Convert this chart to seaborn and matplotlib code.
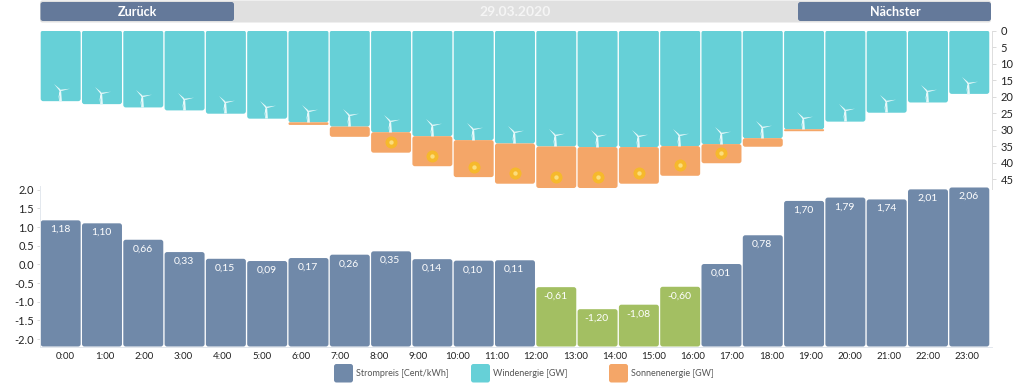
import numpy as np
import pandas as pd
import matplotlib
matplotlib.use('Agg')
import matplotlib.pyplot as plt
import seaborn as sns
from matplotlib.patches import FancyBboxPatch
from matplotlib.path import Path

bars = [str(i) for i in range(23)]
wind = [21.4, 22.3, 23.3, 24.2, 25.2, 26.7, 27.8, 29.1, 30.8, 32.0, 33.2, 34.2,
        35.1, 35.3, 35.3, 35.0, 34.4, 32.6, 29.9, 27.6, 24.9, 21.8, 19.2]
solar = [0, 0, 0, 0, 0, 0, 0.8, 3.1, 6.2, 9.1, 11.2, 12.2,
         12.6, 12.4, 11.1, 9.0, 5.8, 2.6, 0.6, 0, 0, 0, 0]
price = [1.18, 1.10, 0.66, 0.33, 0.15, 0.09, 0.17, 0.26, 0.35, 0.14, 0.10, 0.11,
         -0.61, -1.20, -1.08, -0.60, 0.01, 0.78, 1.70, 1.79, 1.74, 2.01, 2.06]
hours = [f'{h}:00' for h in range(24)]
wind_ticks = [0, 5, 10, 15, 20, 25, 30, 35, 40, 45]
price_ticks = [2.0, 1.5, 1.0, 0.5, 0.0, -0.5, -1.0, -1.5, -2.0]

TEAL = '#66D0D7'
ORANGE = '#F4A668'
BLUE = '#7089A9'
GREEN = '#A3BF62'
BUTTON = '#64799A'
FLOOR = -2.2
W, H = 1031, 386

sns.set_theme(style='white')
plt.rcParams['font.family'] = ['Lato', 'DejaVu Sans']

fig = plt.figure(figsize=(W / 100, H / 100), dpi=100)


def axes_px(left, top, right, bottom):
    return fig.add_axes([left / W, 1 - bottom / H, (right - left) / W, (bottom - top) / H])


def round_bars(ax, radius=2.5):
    # swap the square bars seaborn drew for rounded ones
    bbox = ax.get_window_extent()
    x0, x1 = ax.get_xlim()
    y0, y1 = ax.get_ylim()
    sx = bbox.width / abs(x1 - x0)
    sy = bbox.height / abs(y1 - y0)
    for p in list(ax.patches):
        x, y, w, h = p.get_x(), p.get_y(), p.get_width(), p.get_height()
        color = p.get_facecolor()
        p.remove()
        if h <= 0:
            continue
        r = min(radius, h * sy / 2) / sx
        ax.add_patch(FancyBboxPatch((x, y), w, h, boxstyle=f'round,pad=0,rounding_size={r}',
                                    mutation_aspect=sx / sy, facecolor=color,
                                    edgecolor='none', zorder=2))


# energy bars
top = axes_px(39.5, 30.5, 992, 189)
sns.barplot(x=bars, y=wind, color=TEAL, width=0.968, saturation=1, ax=top)
sns.barplot(x=bars, y=solar, bottom=wind, color=ORANGE, width=0.968, saturation=1, ax=top)
top.set_xlim(-0.513, 22.55)
top.set_ylim(48, 0)
round_bars(top)

# turbine icon, origin at the hub
turbine = Path(
    [(0.7, 0.5), (-6.5, 6.5), (-0.8, -0.5), (0.7, 0.5),
     (0, 0.8), (9.5, 1.8), (0, -0.8), (0, 0.8),
     (-0.6, 0.3), (-2.6, -9), (0.6, -0.3), (-0.6, 0.3),
     (-0.6, 0), (-1.4, -11), (1.4, -11), (0.6, 0), (-0.6, 0)],
    [Path.MOVETO, Path.LINETO, Path.LINETO, Path.CLOSEPOLY,
     Path.MOVETO, Path.LINETO, Path.LINETO, Path.CLOSEPOLY,
     Path.MOVETO, Path.LINETO, Path.LINETO, Path.CLOSEPOLY,
     Path.MOVETO, Path.LINETO, Path.LINETO, Path.LINETO, Path.CLOSEPOLY])
sns.scatterplot(x=np.arange(len(bars)) - 0.02, y=np.array(wind) - 3.4, marker=turbine, s=251,
                color='#E6F8F9', linewidth=0, zorder=4, ax=top)

# suns on the bars tall enough to hold one
sun_x = [i for i, s in enumerate(solar) if s >= 5]
sun_y = [wind[i] + solar[i] - 3.2 for i in sun_x]
sns.scatterplot(x=sun_x, y=sun_y, s=75, color='#F6B92C', linewidth=0, zorder=4, ax=top)
sns.scatterplot(x=sun_x, y=sun_y, s=10, color='#FCDD7C', linewidth=0, zorder=5, ax=top)

top.yaxis.tick_right()
top.set_yticks(wind_ticks, [str(t) for t in wind_ticks])
top.set_xticks([])
top.tick_params(axis='y', length=3, width=0.6, color='#D5D5D5', labelsize=8,
                labelcolor='#222222', pad=3, right=True, left=False)
for name, spine in top.spines.items():
    spine.set_visible(name == 'right')
    spine.set_color('#DDDDDD')
    spine.set_linewidth(0.7)
top.patch.set_alpha(0)

# price bars
low = axes_px(39.5, 186, 992, 346.5)
price_df = pd.DataFrame({'bar': bars, 'height': np.array(price) - FLOOR,
                         'sign': ['neg' if v < 0 else 'pos' for v in price]})
sns.barplot(data=price_df, x='bar', y='height', hue='sign', hue_order=['pos', 'neg'],
            palette={'pos': BLUE, 'neg': GREEN}, dodge=False, legend=False, bottom=FLOOR,
            width=0.968, saturation=1, ax=low)
low.set_xlim(-0.513, 22.55)
low.set_ylim(FLOOR, 2.1)
round_bars(low)
for i, v in enumerate(price):
    low.annotate(f'{v:.2f}'.replace('.', ','), (i - 0.02, v), xytext=(0, -6.6),
                 textcoords='offset points', ha='center', va='center', color='white',
                 fontsize=7.5, zorder=6)

low.set_xlabel('')
low.set_ylabel('')
low.set_yticks(price_ticks, [f'{t:.1f}' for t in price_ticks])
low.set_xticks(np.linspace(0.12, 21.95, 24), hours)
low.tick_params(axis='y', length=2, width=0.6, color='#D5D5D5', labelsize=8,
                labelcolor='#222222', pad=2, left=True)
low.tick_params(axis='x', length=0, labelsize=7, labelcolor='#222222', pad=4)
for name, spine in low.spines.items():
    spine.set_visible(name in ('left', 'bottom'))
    spine.set_color('#E3E8EE')
    spine.set_linewidth(0.7)
low.patch.set_alpha(0)

# header strip and legend, in pixel coordinates
over = fig.add_axes([0, 0, 1, 1], zorder=10)
over.set_xlim(0, W)
over.set_ylim(H, 0)
over.axis('off')


def box(x0, y0, x1, y1, color, r=2.5):
    over.add_patch(FancyBboxPatch((x0, y0), x1 - x0, y1 - y0,
                                  boxstyle=f'round,pad=0,rounding_size={r}',
                                  facecolor=color, edgecolor='none'))


box(40, 0.5, 991, 22.5, '#E0E0E0')
box(40.5, 2, 234, 21, BUTTON)
box(798, 2, 991, 21, BUTTON)
over.text(137, 12.5, 'Zurück', color='white', fontsize=9, ha='center', va='center', fontweight='bold')
over.text(895, 12.5, 'Nächster', color='white', fontsize=9, ha='center', va='center', fontweight='bold')
over.text(515, 11.5, '29.03.2020', color='#F5F5F5', fontsize=10, ha='center', va='center', fontweight='bold')

legend_items = [('Strompreis [Cent/kWh]', BLUE, 334), ('Windenergie [GW]', TEAL, 471),
                ('Sonnenenergie [GW]', ORANGE, 609)]
for label, color, x in legend_items:
    box(x, 364, x + 19, 382.5, color)
    over.text(x + 22, 373.5, label, color='#555555', fontsize=6.5, ha='left', va='center')

fig.savefig('out.png', dpi=100)
